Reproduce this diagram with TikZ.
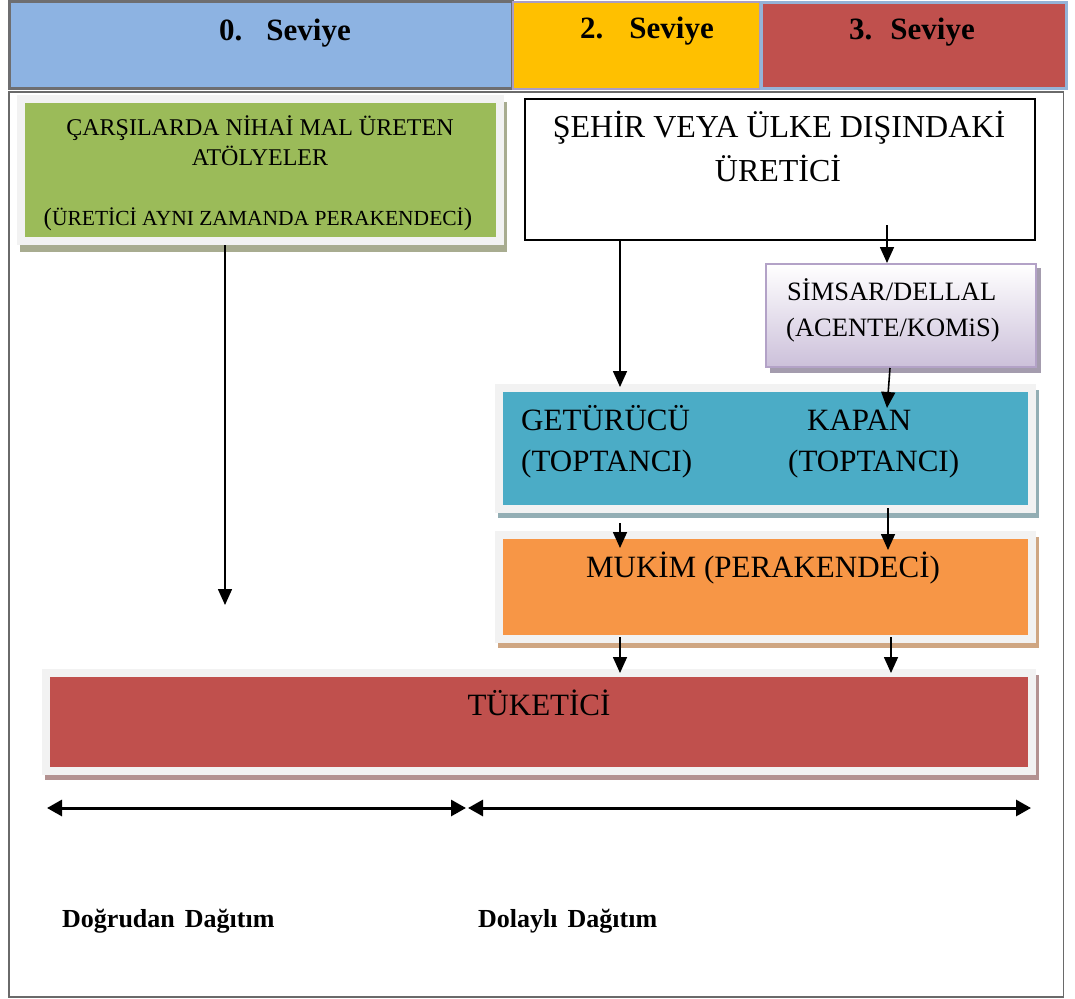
\documentclass[tikz,border=0pt]{standalone}
\usepackage{fontspec}
\setmainfont{Liberation Serif}
\usetikzlibrary{arrows.meta}

\definecolor{hblue}{HTML}{8DB3E2}
\definecolor{hbluebd}{HTML}{6E6E70}
\definecolor{horange}{HTML}{FFC000}
\definecolor{horangebd}{HTML}{A99DC6}
\definecolor{hred}{HTML}{C0504D}
\definecolor{hredbd}{HTML}{95B3D7}
\definecolor{framegray}{HTML}{6A6A6A}
\definecolor{panelgray}{HTML}{F2F2F2}
\definecolor{pgreen}{HTML}{9BBB59}
\definecolor{pgreensh}{HTML}{A8AC90}
\definecolor{pteal}{HTML}{4BACC6}
\definecolor{ptealsh}{HTML}{93AEB4}
\definecolor{porange}{HTML}{F79646}
\definecolor{porangesh}{HTML}{CFA682}
\definecolor{pred}{HTML}{C0504D}
\definecolor{predsh}{HTML}{B39291}
\definecolor{lav}{HTML}{B3A2C7}
\definecolor{lavfill}{HTML}{CCC0DA}
\definecolor{lavsh}{HTML}{A49CAE}

\tikzset{
  cell/.style={anchor=north west, inner sep=0pt},
  panel/.style={anchor=north west, inner sep=0pt, draw=panelgray, line width=8pt},
  txt/.style={inner sep=0pt, anchor=base, font=\fontsize{31}{36}\selectfont},
  txtl/.style={txt, anchor=base west},
  hdr/.style={inner sep=0pt, anchor=base west, font=\bfseries\fontsize{31}{36}\selectfont},
  lbl/.style={inner sep=0pt, anchor=base west, font=\bfseries\fontsize{26}{30}\selectfont},
  arr/.style={-{Triangle[length=16pt,width=14pt]}, line width=1.6pt},
  dbl/.style={{Triangle[length=15pt,width=16pt]}-{Triangle[length=15pt,width=16pt]}, line width=3pt},
}

\begin{document}
\begin{tikzpicture}[x=1pt,y=-1pt]
\useasboundingbox (0,0) rectangle (1075,998);

% outer frame of the chart
\draw[framegray, line width=1.6pt] (9,92) rectangle (1063.5,997);

% level headers
\node[cell, fill=hblue, draw=hbluebd, line width=3pt, minimum width=503pt, minimum height=87pt] (hdr0) at (8,0) {};
\node[cell, fill=horange, draw=horangebd, line width=2pt, minimum width=247pt, minimum height=87pt] (hdr2) at (512,1) {};
\node[cell, fill=hred, draw=hredbd, line width=3pt, minimum width=305pt, minimum height=86pt] (hdr3) at (760,1) {};
\node[hdr] (t0) at (219,41) {0.\hspace{24pt}Seviye};
\node[hdr] (t2) at (580,39) {2.\hspace{26pt}Seviye};
\node[hdr] (t3) at (849,40) {3.\hspace{18pt}Seviye};

% panel shadows
\fill[pgreensh] (20,102) rectangle (507,252);
\fill[ptealsh] (498,390) rectangle (1039,518);
\fill[porangesh] (498,537) rectangle (1039,648);
\fill[predsh] (45,675) rectangle (1039,780);
\fill[lavsh] (770,268) rectangle (1041,373);

% panels
\node[panel, fill=pgreen, minimum width=479pt, minimum height=142pt] (atolye) at (17,95) {};
\node[anchor=north west, inner sep=0pt, draw=black, line width=1.5pt, fill=white,
      minimum width=510pt, minimum height=141pt] (uretici) at (524,98) {};
\node[anchor=north west, inner sep=0pt, draw=lav, line width=2pt, top color=white, bottom color=lavfill,
      minimum width=270pt, minimum height=103pt] (simsar) at (765,263) {};
\node[panel, fill=pteal, minimum width=533pt, minimum height=121pt] (toptan) at (495,384) {};
\node[panel, fill=porange, minimum width=533pt, minimum height=104pt] (mukim) at (495,531) {};
\node[panel, fill=pred, minimum width=986pt, minimum height=98pt] (tuketici) at (42,669) {};

% panel texts
\node[txt, font=\fontsize{24}{28}\selectfont] (a1) at (260,135) {ÇARŞILARDA NİHAİ MAL ÜRETEN};
\node[txt, font=\fontsize{24}{28}\selectfont] (a2) at (260,165) {ATÖLYELER};
\node[txt, font=\fontsize{21.5}{26}\selectfont] (a3) at (258,225)
  {{\fontsize{25}{28}\selectfont(}ÜRETİCİ AYNI ZAMANDA PERAKENDECİ{\fontsize{25}{28}\selectfont)}};
\node[txt, font=\fontsize{32}{36}\selectfont] (u1) at (779,137) {ŞEHİR VEYA ÜLKE DIŞINDAKİ};
\node[txt, font=\fontsize{32}{36}\selectfont] (u2) at (778,181) {ÜRETİCİ};
\node[txtl, font=\fontsize{26.5}{30}\selectfont] (s1) at (787,300) {SİMSAR/DELLAL};
\node[txtl, font=\fontsize{26.5}{30}\selectfont] (s2) at (786,336) {(ACENTE/KOMiS)};
\node[txtl] (g1) at (521,430) {GETÜRÜCÜ};
\node[txtl] (g2) at (521,471) {(TOPTANCI)};
\node[txtl] (k1) at (807,430) {KAPAN};
\node[txtl] (k2) at (788,471) {(TOPTANCI)};
\node[txt] (m1) at (763,577) {MUKİM (PERAKENDECİ)};
\node[txt] (c1) at (539,715) {TÜKETİCİ};

% flow arrows
\coordinate (xa) at (225,0);
\coordinate (xl) at (620,0);
\coordinate (xr) at (888,0);
\coordinate (dtip) at (225,605);
\coordinate (ustart) at (887,225);
\coordinate (ktip) at (887,408);
\draw[arr] (atolye.south -| xa) -- (dtip);
\draw[arr] (uretici.south -| xl) -- ([yshift=-3pt]toptan.north -| xl);
\draw[arr] (ustart) -- (simsar.north -| ustart);
\draw[arr] ([xshift=2pt]simsar.south -| xr) -- (ktip);
\draw[arr] ([yshift=-10pt]toptan.south -| xl) -- ([yshift=-17pt]mukim.north -| xl);
\draw[arr] ([yshift=5pt]toptan.south -| xr) -- ([yshift=-19pt]mukim.north -| xr);
\draw[arr] ([yshift=6pt]mukim.south -| xl) -- ([yshift=-4pt]tuketici.north -| xl);
\draw[arr] ([xshift=3pt,yshift=6pt]mukim.south -| xr) -- ([xshift=3pt,yshift=-4pt]tuketici.north -| xr);

% distribution range arrows
\coordinate (dl) at (47,808);
\coordinate (dm1) at (466,808);
\coordinate (dm2) at (468,808);
\coordinate (dr) at (1031,808);
\draw[dbl] (dl) -- (dm1);
\draw[dbl] (dm2) -- (dr);

\node[lbl] (l1) at (62,927) {Doğrudan\hspace{10pt}Dağıtım};
\node[lbl] (l2) at (478,927) {Dolaylı\hspace{10pt}Dağıtım};
\end{tikzpicture}
\end{document}
